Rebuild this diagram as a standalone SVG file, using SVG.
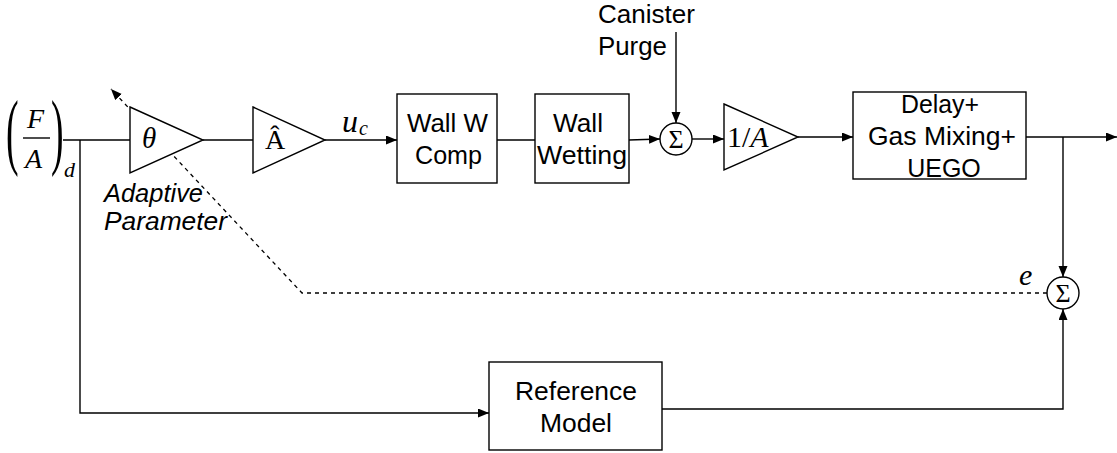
<svg xmlns="http://www.w3.org/2000/svg" width="1117" height="453" viewBox="0 0 1117 453">
<style>
.blk{fill:#fff;stroke:#000;stroke-width:1.4}
.ln{fill:none;stroke:#000;stroke-width:1.4}
.ds{fill:none;stroke:#000;stroke-width:1.3;stroke-dasharray:4,4}
.t{font-family:"Liberation Sans",Arial,sans-serif;font-size:25px;fill:#000}
.ti{font-family:"Liberation Sans",Arial,sans-serif;font-size:25px;font-style:italic;fill:#000}
.m{font-family:"Liberation Serif","Times New Roman",serif;font-style:italic;fill:#000}
.r{font-family:"Liberation Serif","Times New Roman",serif;fill:#000}
.s{font-family:"Liberation Serif","Times New Roman",serif;font-size:26px;fill:#000}
</style>
<defs>
<marker id="ar" markerUnits="userSpaceOnUse" markerWidth="12" markerHeight="10" refX="11" refY="4.5" orient="auto">
<path d="M0,0 L11,4.5 L0,9 z" fill="#000"/>
</marker>
</defs>
<rect width="1117" height="453" fill="#fff"/>

<g id="connectors">
<path class="ln" d="M63,140 H130"/>
<path class="ln" d="M80,140 V413 H489" marker-end="url(#ar)"/>
<path class="ln" d="M203,140 H253"/>
<path class="ln" d="M325,140 H397" marker-end="url(#ar)"/>
<path class="ln" d="M497,140 H535"/>
<path class="ln" d="M629,140 L660,139" marker-end="url(#ar)"/>
<path class="ln" d="M676,32 V123" marker-end="url(#ar)"/>
<path class="ln" d="M692,139 H724" marker-end="url(#ar)"/>
<path class="ln" d="M798,137 H853" marker-end="url(#ar)"/>
<path class="ln" d="M1026,137 H1117" marker-end="url(#ar)"/>
<path class="ln" d="M1063,137 V277" marker-end="url(#ar)"/>
<path class="ln" d="M662,409 H1063 V309" marker-end="url(#ar)"/>
<path class="ds" d="M1047,293 H302 L111,89" marker-end="url(#ar)"/>
</g>

<g id="input">
<text class="r" font-size="84" transform="translate(6,159) scale(0.45,1)">(</text>
<text class="r" font-size="84" transform="translate(51,159) scale(0.45,1)">)</text>
<text class="m" font-size="28" x="27" y="128">F</text>
<line class="ln" x1="23" y1="138" x2="50" y2="138"/>
<text class="m" font-size="28" x="25" y="168">A</text>
<text class="m" font-size="22" x="64" y="177">d</text>
</g>

<g id="theta">
<path class="blk" d="M130,107 L203,140 L130,173 z"/>
<text class="m" font-size="29" x="142" y="148">θ</text>
</g>

<g id="ahat">
<path class="blk" d="M253,107 L325,140 L253,173 z"/>
<text class="r" font-size="28" x="265" y="149">Â</text>
</g>

<g id="uc-label">
<text class="m" font-size="32" x="342" y="132">u</text>
<text class="m" font-size="20" x="359" y="135">c</text>
</g>

<g id="wallwcomp">
<rect class="blk" x="397" y="94" width="100" height="89"/>
<text class="t" x="407" y="132" textLength="81" lengthAdjust="spacingAndGlyphs">Wall W</text>
<text class="t" x="415" y="164" textLength="67" lengthAdjust="spacingAndGlyphs">Comp</text>
</g>

<g id="wallwetting">
<rect class="blk" x="535" y="94" width="94" height="89"/>
<text class="t" x="553" y="132" textLength="50" lengthAdjust="spacingAndGlyphs">Wall</text>
<text class="t" x="537" y="164" textLength="90" lengthAdjust="spacingAndGlyphs">Wetting</text>
</g>

<g id="canister">
<text class="t" x="598" y="23" textLength="97" lengthAdjust="spacingAndGlyphs">Canister</text>
<text class="t" x="598" y="55" textLength="69" lengthAdjust="spacingAndGlyphs">Purge</text>
</g>

<g id="sum1">
<circle class="blk" cx="676" cy="139" r="16"/>
<text class="s" x="676" y="148" text-anchor="middle">Σ</text>
</g>

<g id="invA">
<path class="blk" d="M724,104 L798,137 L724,170 z"/>
<text class="r" font-size="30" x="727" y="147">1/<tspan style="font-style:italic">A</tspan></text>
</g>

<g id="plant">
<rect class="blk" x="853" y="92" width="173" height="87"/>
<text class="t" x="901" y="113" textLength="78" lengthAdjust="spacingAndGlyphs">Delay+</text>
<text class="t" x="868" y="145" textLength="148" lengthAdjust="spacingAndGlyphs">Gas Mixing+</text>
<text class="t" x="944" y="177" text-anchor="middle">UEGO</text>
</g>

<g id="sum2">
<circle class="blk" cx="1063" cy="293" r="16"/>
<text class="s" x="1063" y="302" text-anchor="middle">Σ</text>
<text class="m" font-size="30" x="1019" y="285">e</text>
</g>

<g id="refmodel">
<rect class="blk" x="489" y="362" width="173" height="88"/>
<text class="t" x="515" y="400" textLength="122" lengthAdjust="spacingAndGlyphs">Reference</text>
<text class="t" x="540" y="432" textLength="72" lengthAdjust="spacingAndGlyphs">Model</text>
</g>

<g id="adaptive-label">
<text class="ti" x="104" y="202" textLength="99" lengthAdjust="spacingAndGlyphs">Adaptive</text>
<text class="ti" x="104" y="230" textLength="123" lengthAdjust="spacingAndGlyphs">Parameter</text>
</g>
</svg>
